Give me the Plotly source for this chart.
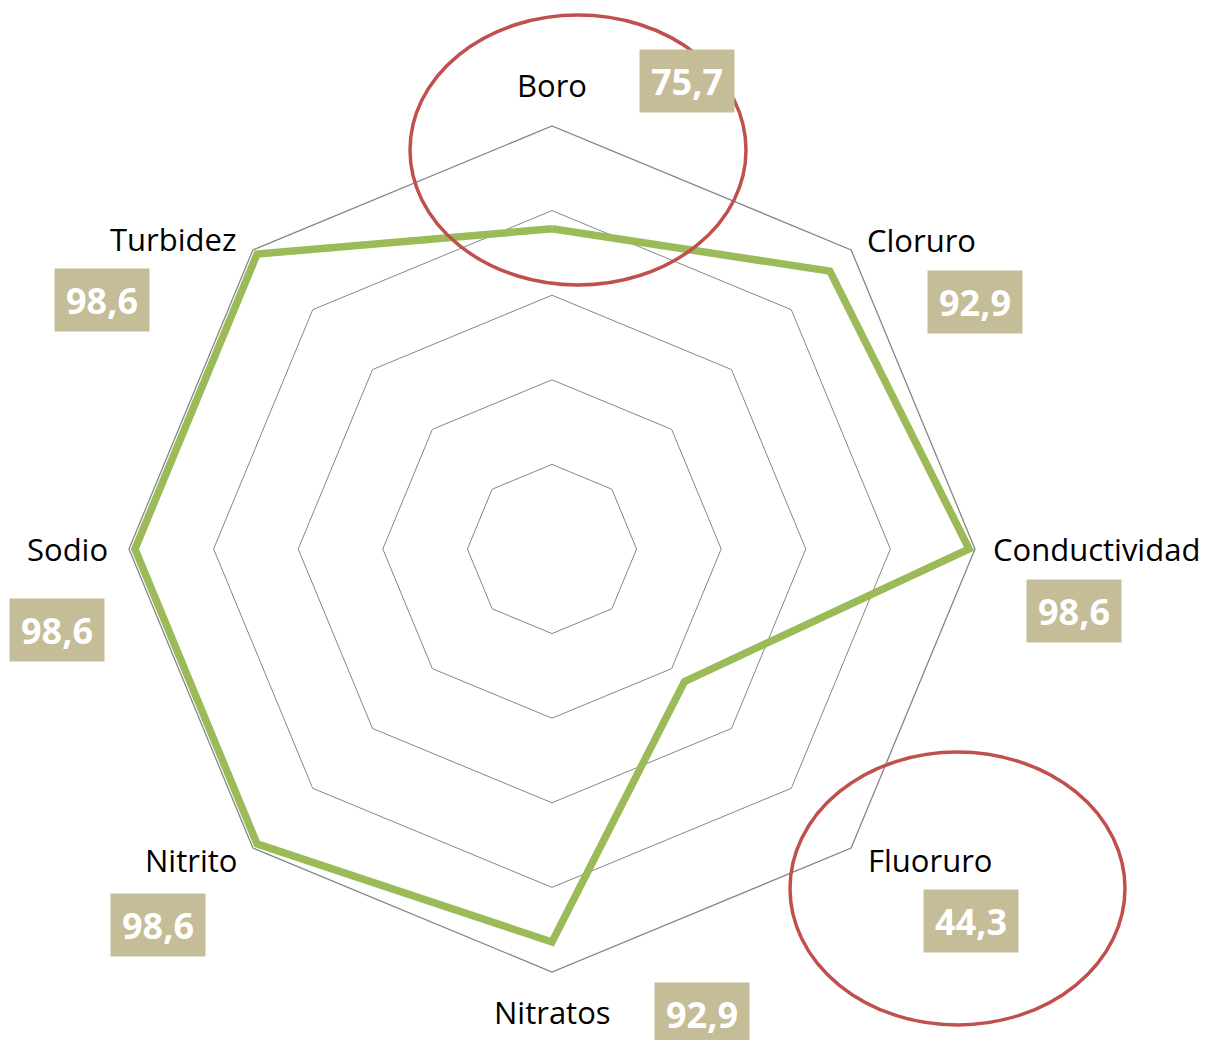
import math
import plotly.graph_objects as go

categorias = ["Boro", "Cloruro", "Conductividad", "Fluoruro",
              "Nitratos", "Nitrito", "Sodio", "Turbidez"]
valores = [75.7, 92.9, 98.6, 44.3, 92.9, 98.6, 98.6, 98.6]

# page body has an 8px margin, so the figure is shrunk and positions shifted
OFF = 8
W, H = 1213 - OFF, 1040 - OFF
# polar area in pixels: centre and outer radius
cx, cy, R = 552 - OFF, 549 - OFF, 423
dom_x = [(cx - R) / W, (cx + R) / W]
dom_y = [(H - cy - R) / H, (H - cy + R) / H]

# pixel offsets from each outer vertex: value boxes and category names
desp_val = [(135, -45), (124, 52), (99, 62), (120, 73),
            (150, 42), (-95, 77), (-72, 81), (-151, 50)]
desp_cat = [(0, -41, "center"), (14, -10, "left"), (16, 0, "left"),
            (15, 12, "left"), (0, 40, "center"), (-14, 12, "right"),
            (-19, 0, "right"), (-15, -11, "right")]

fig = go.Figure()
fig.add_trace(go.Scatterpolar(
    r=valores + valores[:1],
    theta=categorias + categorias[:1],
    mode="lines",
    line=dict(color="#9BBB59", width=7.5),
    hoverinfo="skip",
))

anot = []
for i, (cat, v) in enumerate(zip(categorias, valores)):
    ang = math.radians(90 - 45 * i)
    px_ = (dom_x[0] + dom_x[1]) / 2 + (R / W) * math.cos(ang)
    py_ = (dom_y[0] + dom_y[1]) / 2 + (R / H) * math.sin(ang)
    dx, dy = desp_val[i]
    anot.append(dict(
        x=px_, y=py_, xref="paper", yref="paper",
        xshift=dx, yshift=-dy, showarrow=False,
        text="<b>" + f"{v:.1f}".replace(".", ",") + "</b>",
        font=dict(family="Open Sans", size=36, color="white"),
        bgcolor="#C4BD97", width=92, height=60,
        xanchor="center", yanchor="middle",
    ))
    dx, dy, anc = desp_cat[i]
    anot.append(dict(
        x=px_, y=py_, xref="paper", yref="paper",
        xshift=dx, yshift=-dy, showarrow=False, text=cat,
        font=dict(family="Open Sans", size=31, color="black"),
        xanchor=anc, yanchor="middle",
    ))


def px2paper(x0, y0, x1, y1):
    return dict(x0=(x0 - OFF) / W, x1=(x1 - OFF) / W,
                y0=1 - (y1 - OFF) / H, y1=1 - (y0 - OFF) / H)


elipse = dict(type="circle", xref="paper", yref="paper",
              line=dict(color="#C0504D", width=3.5), layer="above")
fig.update_layout(
    width=W, height=H,
    margin=dict(l=0, r=0, t=0, b=0),
    paper_bgcolor="white",
    showlegend=False,
    polar=dict(
        domain=dict(x=dom_x, y=dom_y),
        gridshape="linear",
        bgcolor="white",
        radialaxis=dict(range=[0, 100], tickvals=[20, 40, 60, 80],
                        showticklabels=False, showline=False, ticks="",
                        gridcolor="#868686", gridwidth=1.3),
        angularaxis=dict(rotation=90, direction="clockwise",
                         showgrid=False, showticklabels=False, ticks="",
                         linecolor="#868686", linewidth=1.3),
    ),
    annotations=anot,
    shapes=[
        dict(elipse, **px2paper(410, 15, 746, 285)),
        dict(elipse, **px2paper(790, 752, 1125, 1025)),
    ],
)

fig.write_html("out.html")
